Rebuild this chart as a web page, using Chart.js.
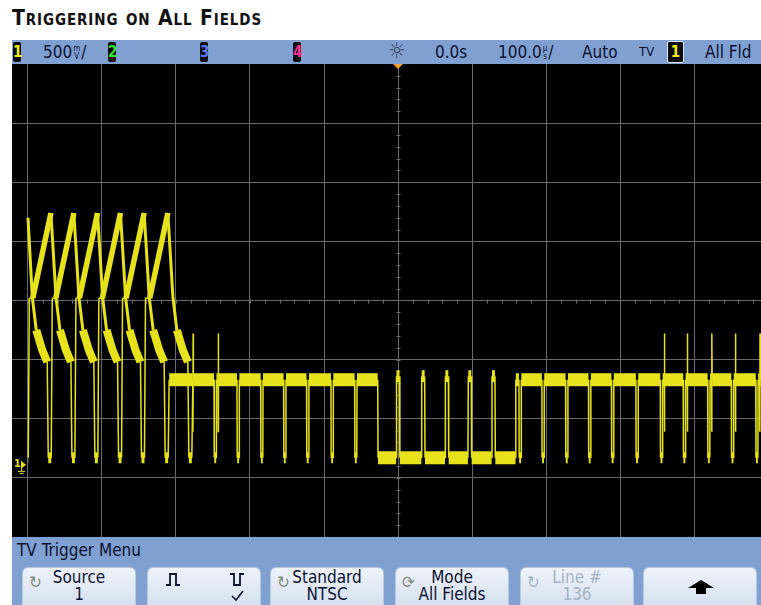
<!DOCTYPE html>
<html>
<head>
<meta charset="utf-8">
<script src="https://cdn.jsdelivr.net/npm/chart.js@4.4.0/dist/chart.umd.min.js"></script>
<style>
body{margin:0;background:#fff;width:761px;height:605px;position:relative;overflow:hidden;
  font-family:"Liberation Sans Narrow","DejaVu Sans Condensed",sans-serif;font-stretch:condensed}
#title{position:absolute;left:12px;top:6px;font-weight:bold;font-size:21px;letter-spacing:0.9px;font-variant:small-caps;color:#111;white-space:nowrap}
#scr{position:absolute;left:12px;top:40px;width:749px;height:565px;background:#000;overflow:hidden}
#hdr{position:absolute;left:0;top:0;width:749px;height:24px;background:#80a0d2;color:#0a1230;font-size:17px;line-height:24px}
#hdr>span{position:absolute;top:0;white-space:nowrap}
#hdr .ch{top:2px;height:20px;width:8px;line-height:20px;background:#0c0c0c;border-radius:2px;text-align:center;font-weight:bold;font-size:15px}
#hdr .u{display:inline-block;vertical-align:middle;font-size:8px;line-height:8px;text-align:center;margin:0 1px}
#plot{position:absolute;left:0;top:24px}
#menu{position:absolute;left:0;top:497px;width:749px;height:68px;background:#80a0d2;color:#0a1230}
#menu .cap{position:absolute;left:5px;top:2px;font-size:17px;line-height:22px}
.btn{position:absolute;top:30px;width:114px;height:44px;border-radius:6px;border:1px solid #b8c8de;
  background:linear-gradient(#eef3fa,#d3deee);box-sizing:border-box}
.btn .ic{position:absolute;left:6px;top:4px;font-family:"DejaVu Sans",sans-serif;font-size:17px;color:#7d8c7d}
.btn .t{position:absolute;left:8px;right:8px;top:1px;text-align:center;font-size:17px;line-height:17px}
.btn.dim .t,.btn.dim .ic{color:#a3b2c6}
</style>
</head>
<body>
<div id="title">Triggering on All Fields</div>
<div id="scr">
  <div id="hdr">
    <span class="ch" style="left:1px;color:#f2ee10">1</span>
    <span style="left:31px">500<span class="u">m<br>V</span>/</span>
    <span class="ch" style="left:96px;color:#38e038">2</span>
    <span class="ch" style="left:188px;color:#5a78ff">3</span>
    <span class="ch" style="left:281px;color:#ff3090">4</span>
    <span style="left:376px;top:-1px;font-family:'DejaVu Sans',sans-serif;font-size:22px;color:#3a4660">&#9788;</span>
    <span style="left:423px">0.0s</span>
    <span style="left:486px">100.0<span class="u">&micro;<br>s</span>/</span>
    <span style="left:570px">Auto</span>
    <span style="left:627px;font-size:13px">TV</span>
    <span class="ch" style="left:655px;width:15px;border:1px solid #dfe6f0;top:1px;color:#f2ee10">1</span>
    <span style="left:693px">All Fld</span>
  </div>
  <canvas id="plot" width="749" height="473" style="width:749px;height:473px"></canvas>
  <div id="menu">
    <div class="cap">TV Trigger Menu</div>
    <div class="btn" style="left:10px"><span class="ic">&#8635;</span><div class="t">Source<br>1</div></div>
    <div class="btn" style="left:135px">
      <svg width="114" height="40" style="position:absolute;left:0;top:0">
        <path d="M18 17 H22 V6 H28 V17 H32" fill="none" stroke="#0a1230" stroke-width="1.8"/>
        <path d="M82 6 H86 V17 H92 V6 H96" fill="none" stroke="#0a1230" stroke-width="1.8"/>
        <path d="M84 28 L88 32 L95 23" fill="none" stroke="#0a1230" stroke-width="1.6"/>
      </svg>
    </div>
    <div class="btn" style="left:258px"><span class="ic">&#8635;</span><div class="t">Standard<br>NTSC</div></div>
    <div class="btn" style="left:383px"><span class="ic">&#10227;</span><div class="t">Mode<br>All Fields</div></div>
    <div class="btn dim" style="left:508px"><span class="ic">&#8635;</span><div class="t">Line #<br>136</div></div>
    <div class="btn" style="left:631px">
      <svg width="114" height="40" style="position:absolute;left:0;top:0">
        <path d="M44 20 L57 12 L70 20 Z M52 20 H62 V26 H52 Z" fill="#000"/>
      </svg>
    </div>
  </div>
</div>
<script>
// time in microseconds (100 us/div), level in volts (500 mV/div)
const screenStart = -500, screenEnd = 490.5;

// sawtooth video lines, the two fields overlaid (time of each white peak)
const peaksA = [-532, -469, -406, -343];
const peaksB = [-501, -438, -375, -311];
const leadA = [-500, -1.33];
const leadB = [-500, 0.70];
// one video line relative to its peak: ramp, fall, porch, sync, back porch
const lineDt   = [-24.5, 0, 6.8, 12.2, 20.3, 27, 28.4, 32.4, 33.8];
const lineV    = [0.02, 0.74, 0.03, -0.25, -0.42, -0.52, -1.33, -1.33, 0.02];
const lineKind = ['ramp', 'fall', 'fall', 'blob', 'blob', 'edge', 'tip', 'edge', 'edge'];

// blanking lines and vertical interval
const blankV = -0.67, syncV = -1.33, serrV = -0.64, spikeTopV = -0.28, spikeFootV = -1.11;
const hSyncs = [-247, -216, -184, -153, -122, -89, -57, 165, 196, 228, 259, 290, 323, 356, 387, 420, 452, 485];
const spikes = [-277, -243, 360, 391, 424, 456, 489];
const vSync = [-27.4, 158.8];
const serrations = [0, 34, 66, 97, 129];

const strokeW = {ramp: 5.5, fall: 3, blob: 8, tip: 11, edge: 1.5, band: 13, serr: 12};
const trace = 'rgb(230,226,28)';
const gridColor = '#6a6a6a';

function fieldLine(lead, peaks, endV) {
  const pts = [{x: lead[0], y: lead[1], k: lead[1] === syncV ? 'tip' : 'fall'}];
  peaks.forEach((p, i) => {
    lineDt.forEach((dt, j) => {
      const x = p + dt;
      let y = lineV[j];
      if (i === peaks.length - 1 && j === lineDt.length - 1) y = endV;
      if (x > screenStart) pts.push({x, y, k: lineKind[j]});
    });
  });
  return pts;
}

function blankLine(startX) {
  const ev = hSyncs.map(t => [t, 'h']).concat(spikes.map(t => [t, 's']), [[vSync[0], 'v']]);
  ev.sort((a, b) => a[0] - b[0]);
  const pts = [{x: startX, y: blankV, k: 'band'}];
  ev.forEach(([t, type]) => {
    if (type === 'h') {
      pts.push({x: t - 1.6, y: blankV, k: 'edge'}, {x: t - 1.3, y: syncV, k: 'tip'},
               {x: t + 1.3, y: syncV, k: 'edge'}, {x: t + 1.6, y: blankV, k: 'band'});
    } else if (type === 's') {
      pts.push({x: t - 0.4, y: blankV, k: 'edge'}, {x: t - 0.1, y: spikeFootV, k: 'edge'},
               {x: t + 0.2, y: spikeTopV, k: 'edge'}, {x: t + 0.5, y: blankV, k: 'band'});
    } else {
      pts.push({x: vSync[0], y: blankV, k: 'edge'}, {x: vSync[0] + 0.4, y: syncV, k: 'band'});
      serrations.forEach(s => pts.push({x: s - 2.5, y: syncV, k: 'edge'}, {x: s - 2, y: serrV, k: 'serr'},
                                       {x: s + 2, y: serrV, k: 'edge'}, {x: s + 2.5, y: syncV, k: 'band'}));
      pts.push({x: vSync[1], y: syncV, k: 'edge'}, {x: vSync[1] + 0.4, y: blankV, k: 'band'});
    }
  });
  pts.push({x: screenEnd, y: blankV, k: 'band'});
  return pts;
}

const fieldA = fieldLine(leadA, peaksA, blankV);
const fieldB = fieldLine(leadB, peaksB, blankV);
const blank = blankLine(fieldA[fieldA.length - 1].x);

const scopeMarks = {
  id: 'scopeMarks',
  beforeDatasetsDraw(chart) {
    const {ctx, scales: {x, y}} = chart;
    const x0 = Math.round(x.getPixelForValue(0)) + 0.5, y0 = Math.round(y.getPixelForValue(0)) + 0.5;
    ctx.save();
    ctx.strokeStyle = gridColor; ctx.lineWidth = 1; ctx.beginPath();
    for (let t = -500; t < x.max; t += 20) {
      const px = Math.round(x.getPixelForValue(t)) + 0.5;
      ctx.moveTo(px, y0 - 2); ctx.lineTo(px, y0 + 2);
    }
    for (let v = -2; v <= 2.001; v += 0.1) {
      const py = Math.round(y.getPixelForValue(v)) + 0.5;
      ctx.moveTo(x0 - 2, py); ctx.lineTo(x0 + 2, py);
    }
    ctx.stroke(); ctx.restore();
  },
  afterDraw(chart) {
    const {ctx, scales: {x, y}} = chart;
    const x0 = x.getPixelForValue(0), g = y.getPixelForValue(-1.39);
    ctx.save();
    ctx.fillStyle = '#f0a030';
    ctx.beginPath(); ctx.moveTo(x0 - 5, 0); ctx.lineTo(x0 + 5, 0); ctx.lineTo(x0, 5); ctx.fill();
    ctx.fillStyle = trace; ctx.strokeStyle = trace; ctx.lineWidth = 1;
    ctx.font = 'bold 11px "DejaVu Sans Condensed", sans-serif';
    ctx.textBaseline = 'middle'; ctx.fillText('1', 2, g - 1);
    ctx.beginPath(); ctx.moveTo(9, g - 4); ctx.lineTo(14, g); ctx.lineTo(9, g + 4); ctx.fill();
    ctx.beginPath(); ctx.moveTo(9.5, g); ctx.lineTo(9.5, g + 6); ctx.moveTo(6, g + 6.5); ctx.lineTo(13, g + 6.5);
    ctx.moveTo(7.5, g + 8.5); ctx.lineTo(11.5, g + 8.5); ctx.stroke();
    ctx.restore();
  }
};

function ds(data) {
  return {data, borderColor: trace, borderWidth: 1.5, pointRadius: 0, tension: 0,
    borderCapStyle: 'butt', borderJoinStyle: 'bevel',
    segment: {borderWidth: c => strokeW[c.chart.data.datasets[c.datasetIndex].data[c.p0DataIndex].k]}};
}

new Chart(document.getElementById('plot'), {
  type: 'line',
  data: {datasets: [ds(fieldA), ds(fieldB), ds(blank)]},
  options: {
    responsive: false, animation: false, devicePixelRatio: 1,
    layout: {padding: 0},
    plugins: {legend: {display: false}, tooltip: {enabled: false}},
    scales: {
      x: {type: 'linear', min: -521.6, max: screenEnd,
          ticks: {display: false, stepSize: 100, includeBounds: false},
          grid: {color: gridColor, drawTicks: false}, border: {display: false}},
      y: {type: 'linear', min: -2, max: 2,
          ticks: {display: false, stepSize: 0.5},
          grid: {color: c => Math.abs(c.tick.value) === 2 ? 'rgba(0,0,0,0)' : gridColor, drawTicks: false},
          border: {display: false}}
    }
  },
  plugins: [scopeMarks]
});
</script>
</body>
</html>
